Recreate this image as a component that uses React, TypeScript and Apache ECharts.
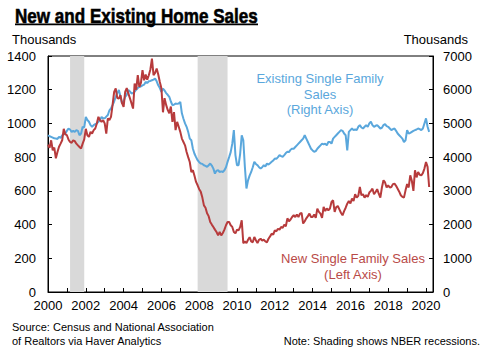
import React, { useEffect, useRef } from "react";
import * as echarts from "echarts";

const START_YEAR = 2000;

// New single-family home sales, thousands (SAAR), monthly Jan 2000 - Mar 2020 (left axis)
const NEW_SALES = [
  873, 856, 900, 841, 857, 793, 830, 862, 880, 900, 968, 935,
  930, 905, 890, 885, 900, 895, 880, 870, 860, 851, 880, 905,
  968, 930, 920, 950, 940, 960, 970, 1000, 1039, 1020, 1009, 1020,
  1000, 940, 1030, 1020, 1039, 1110, 1187, 1207, 1150, 1148, 1168, 1120,
  1098, 1187, 1210, 1178, 1150, 1120, 1088, 1237, 1200, 1286, 1217, 1240,
  1316, 1256, 1290, 1260, 1286, 1320, 1385, 1286, 1300, 1326, 1290, 1246,
  1209, 1066, 1150, 1110, 1080, 1060, 1100, 1009, 1067, 960, 1009, 980,
  950, 910, 890, 870, 831, 800, 771, 712, 722, 690, 653, 633,
  610, 594, 560, 514, 500, 467, 450, 415, 400, 386, 370, 356,
  336, 356, 336, 350, 370, 396, 415, 415, 396, 386, 356, 348,
  370, 366, 386, 425, 289, 300, 290, 310, 325, 300, 295, 326,
  307, 290, 310, 316, 305, 310, 300, 295, 316, 330, 346, 340,
  366, 360, 375, 370, 386, 380, 400, 390, 437, 420, 430, 445,
  455, 445, 460, 445, 465, 470, 406, 420, 437, 450, 465, 445,
  445, 460, 440, 495, 475, 465, 440, 505, 480, 495, 485, 495,
  534, 544, 475, 504, 510, 490, 470, 455, 480, 500, 524, 540,
  525, 554, 540, 580, 560, 570, 623, 574, 580, 560, 575, 564,
  590, 600, 613, 580, 593, 610, 583, 560, 620, 663, 650, 620,
  633, 620, 623, 640, 643, 630, 613, 595, 574, 564, 560, 603,
  640, 620, 692, 660, 600, 722, 680, 712, 695, 692, 705, 732,
  771, 742, 623,
];

// Existing single-family home sales, thousands (SAAR), monthly Jan 2000 - Mar 2020 (right axis)
const EXISTING_SALES = [
  4650, 4620, 4600, 4580, 4560, 4550, 4540, 4600, 4570, 4650, 4680, 4700,
  4780, 4850, 4820, 4750, 4780, 4750, 4800, 4780, 4650, 4700, 4900, 4880,
  5190, 5100, 5050, 4950, 4900, 4950, 4980, 5000, 5050, 5100, 5190, 5150,
  5150, 5200, 5250, 5390, 5450, 5540, 5650, 5790, 5900, 5990, 5800, 5590,
  5650, 5790, 5850, 5990, 5950, 5890, 5900, 5940, 6000, 6050, 6080, 6100,
  6130, 6150, 6230, 6200, 6250, 6260, 6280, 6300, 6330, 6250, 6130, 6050,
  5940, 6030, 5980, 5900, 5850, 5790, 5650, 5540, 5560, 5590, 5580, 5590,
  5640, 5300, 5140, 5000, 4900, 4750, 4550, 4500, 4250, 4100, 4000, 3910,
  3850, 3810, 3800, 3760, 3740, 3710, 3760, 3810, 3750, 3660, 3510, 3600,
  3610, 3560, 3580, 3560, 3610, 3700, 3860, 4000, 4150, 4400, 4800, 4060,
  3760, 3760, 4100, 4650, 4500, 3710, 3070, 3310, 3450, 3560, 3700, 3860,
  3800, 3760, 3700, 3660, 3700, 3760, 3720, 3810, 3780, 3820, 3860, 3900,
  3960, 3950, 4000, 4060, 4030, 4010, 4060, 4120, 4160, 4150, 4220, 4250,
  4250, 4300, 4350, 4400, 4450, 4500, 4550, 4650, 4550, 4450, 4350, 4250,
  4200, 4160, 4180, 4250, 4300, 4350, 4400, 4380, 4400, 4350, 4450, 4450,
  4400, 4550, 4600, 4650, 4700, 4750, 4800, 4780, 4700, 4650, 4200, 4750,
  4800, 4850, 4800, 4820, 4800, 4900, 4950, 4880, 4850, 4900, 4950, 4900,
  5000, 5050, 4950, 4900, 4930, 4950, 4900, 4850, 4870, 4950, 4980, 4920,
  4900, 4850, 4800, 4830, 4850, 4780, 4700, 4650, 4600, 4550, 4450, 4500,
  4800, 4700, 4720, 4750, 4780, 4800, 4820, 4850, 4830, 4800, 4850, 5000,
  5150, 4900, 4750,
];

// NBER recessions (decimal years): Mar 2001 - Nov 2001, Dec 2007 - Jun 2009
const RECESSIONS = [
  [2001.167, 2001.917],
  [2007.917, 2009.5],
];

const LEFT_TICKS = { min: 0, max: 1400, interval: 200 };
const RIGHT_TICKS = { min: 0, max: 7000, interval: 1000 };

const RED = "#b73b3c";
const BLUE = "#5aa7dc";
const SHADE = "#d9d9d9";
const FONT = '"Liberation Sans", Arial, Helvetica, sans-serif';

export default function App() {
  const ref = useRef<HTMLDivElement>(null);

  useEffect(() => {
    document.body.style.margin = "0";
    if (!ref.current) return;
    const chart = echarts.init(ref.current, null, { renderer: "svg" });
    const monthX = (i: number) => START_YEAR + i / 12;
    const plain = (v: number) => String(v);

    chart.setOption({
      animation: false,
      grid: {
        left: 48,
        right: 57,
        top: 56,
        bottom: 61,
        show: true,
        borderColor: "#000",
        borderWidth: 1,
        backgroundColor: "transparent",
      },
      xAxis: {
        type: "value",
        min: 2000,
        max: 2020.37,
        interval: 1,
        axisLine: { show: true, lineStyle: { color: "#000", width: 1 } },
        axisTick: { show: true, inside: true, length: 4, lineStyle: { color: "#000" } },
        axisLabel: {
          formatter: (v: number) => (Number.isInteger(v) && v % 2 === 0 ? String(v) : ""),
          fontSize: 13,
          color: "#000",
          fontFamily: FONT,
          margin: 7,
          showMaxLabel: false,
        },
        splitLine: { show: false },
      },
      yAxis: [
        {
          type: "value",
          position: "left",
          ...LEFT_TICKS,
          axisLine: { show: true, lineStyle: { color: "#000" } },
          axisTick: { show: true, inside: true, length: 4, lineStyle: { color: "#000" } },
          axisLabel: { fontSize: 13, color: "#000", fontFamily: FONT, margin: 12, formatter: plain },
          splitLine: { show: false },
        },
        {
          type: "value",
          position: "right",
          ...RIGHT_TICKS,
          axisLine: { show: true, lineStyle: { color: "#000" } },
          axisTick: { show: true, inside: true, length: 4, lineStyle: { color: "#000" } },
          axisLabel: { fontSize: 13, color: "#000", fontFamily: FONT, margin: 10, formatter: plain },
          splitLine: { show: false },
        },
      ],
      series: [
        {
          type: "custom",
          name: "Recessions",
          xAxisIndex: 0,
          yAxisIndex: 0,
          z: 1,
          silent: true,
          data: RECESSIONS,
          encode: { x: [0, 1] },
          renderItem: (params: any, api: any) => {
            const s = api.coord([api.value(0), LEFT_TICKS.min]);
            const e = api.coord([api.value(1), LEFT_TICKS.max]);
            return {
              type: "rect",
              shape: { x: s[0], y: e[1], width: e[0] - s[0], height: s[1] - e[1] },
              style: { fill: SHADE },
            };
          },
        },
        {
          type: "line",
          name: "Existing Single Family Sales",
          yAxisIndex: 1,
          z: 3,
          showSymbol: false,
          symbol: "none",
          data: EXISTING_SALES.map((v, i) => [monthX(i), v]),
          lineStyle: { color: BLUE, width: 2 },
        },
        {
          type: "line",
          name: "New Single Family Sales",
          yAxisIndex: 0,
          z: 4,
          showSymbol: false,
          symbol: "none",
          data: NEW_SALES.map((v, i) => [monthX(i), v]),
          lineStyle: { color: RED, width: 2 },
        },
      ],
      graphic: [
        {
          type: "text",
          x: 15,
          y: 15.5,
          scaleX: 0.813,
          style: {
            text: "New and Existing Home Sales",
            font: `bold 21px ${FONT}`,
            fill: "#000",
            stroke: "#000",
            lineWidth: 0.6,
            align: "left",
            verticalAlign: "middle",
          },
        },
        {
          type: "rect",
          shape: { x: 15, y: 23.6, width: 243, height: 1.7 },
          style: { fill: "#000" },
        },
        {
          type: "text",
          x: 12,
          y: 39,
          style: { text: "Thousands", font: `13px ${FONT}`, fill: "#000", align: "left", verticalAlign: "middle" },
        },
        {
          type: "text",
          x: 468,
          y: 39,
          style: { text: "Thousands", font: `13px ${FONT}`, fill: "#000", align: "right", verticalAlign: "middle" },
        },
        {
          type: "text",
          x: 320,
          y: 94,
          z: 10,
          style: {
            text: "Existing Single Family\nSales\n(Right Axis)",
            font: `13px ${FONT}`,
            lineHeight: 15.5,
            fill: BLUE,
            align: "center",
            verticalAlign: "middle",
          },
        },
        {
          type: "text",
          x: 353,
          y: 266.7,
          z: 10,
          style: {
            text: "New Single Family Sales\n(Left Axis)",
            font: `13px ${FONT}`,
            lineHeight: 15.5,
            fill: "#b94a48",
            align: "center",
            verticalAlign: "middle",
          },
        },
        {
          type: "text",
          x: 12,
          y: 333.5,
          style: {
            text: "Source: Census and National Association\nof Realtors via Haver Analytics",
            font: `11px ${FONT}`,
            lineHeight: 14,
            fill: "#000",
            align: "left",
            verticalAlign: "middle",
          },
        },
        {
          type: "text",
          x: 480,
          y: 340.5,
          style: {
            text: "Note: Shading shows NBER recessions.",
            font: `11px ${FONT}`,
            fill: "#000",
            align: "right",
            verticalAlign: "middle",
          },
        },
      ],
    });

    return () => chart.dispose();
  }, []);

  return <div ref={ref} style={{ width: 490, height: 353 }} />;
}
